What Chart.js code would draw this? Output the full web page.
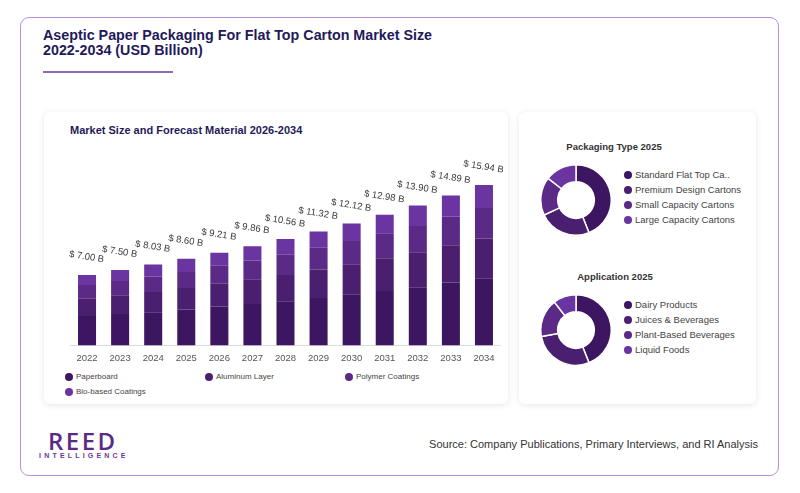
<!DOCTYPE html>
<html><head><meta charset="utf-8">
<script src="https://cdn.jsdelivr.net/npm/chart.js@4.4.0/dist/chart.umd.min.js"></script>
<style>
html,body{margin:0;padding:0;background:#fff;width:800px;height:493px;overflow:hidden;font-family:"Liberation Sans",Arial,sans-serif;}
.abs{position:absolute;}
#frame{left:20px;top:17px;width:759px;height:459px;border:1px solid #b690da;border-radius:9px;box-sizing:border-box;}
#title{left:43px;top:28px;font-size:14.3px;font-weight:bold;line-height:15px;color:#1f1a5a;white-space:nowrap;}
#uline{left:43px;top:71px;width:130px;height:2px;background:#8e6bb8;}
.panel{background:#fff;border-radius:6px;box-shadow:0 1px 6px rgba(0,0,0,0.10);}
#ptitle{left:70px;top:124px;font-size:11px;font-weight:bold;color:#1f1a5a;line-height:12px;white-space:nowrap;}
.lg{font-size:8px;color:#444;line-height:10px;white-space:nowrap;}
.dot{position:absolute;width:8px;height:8px;border-radius:50%;}
.dlg{font-size:9.5px;color:#444;line-height:11px;white-space:nowrap;}
.dtitle{font-size:9.5px;font-weight:bold;color:#333;line-height:11px;white-space:nowrap;transform:translateX(-50%);}
#reed{left:48px;top:428px;font-size:24px;font-weight:600;letter-spacing:2.5px;color:#5b2a86;line-height:26px;font-family:"Open Sans","Liberation Sans",sans-serif;}
#intel{left:39px;top:451px;font-size:7px;font-weight:bold;letter-spacing:3.2px;color:#6b35a0;line-height:9px;}
#source{right:42px;top:438px;font-size:11px;color:#333;line-height:12px;white-space:nowrap;}
</style></head>
<body>
<div id="frame" class="abs"></div>
<div id="title" class="abs">Aseptic Paper Packaging For Flat Top Carton Market Size<br>2022-2034 (USD Billion)</div>
<div id="uline" class="abs"></div>
<div class="abs panel" style="left:44px;top:112px;width:464px;height:292px;"></div>
<div class="abs panel" style="left:519px;top:112px;width:237px;height:292px;"></div>
<div id="ptitle" class="abs">Market Size and Forecast Material 2026-2034</div>
<div class="abs" style="left:44px;top:144px;width:464px;height:226px;"><canvas id="bar"></canvas></div>
<div id="barLegend"></div>
<div class="abs dtitle" style="left:614px;top:141px;">Packaging Type 2025</div>
<div class="abs dtitle" style="left:615px;top:271px;">Application 2025</div>
<div class="abs" style="left:539.5px;top:164px;width:72px;height:72px;"><canvas id="d1"></canvas></div>
<div class="abs" style="left:539.5px;top:294px;width:72px;height:72px;"><canvas id="d2"></canvas></div>
<div id="d1Legend"></div>
<div id="d2Legend"></div>
<div id="reed" class="abs">REED</div>
<div id="intel" class="abs">INTELLIGENCE</div>
<div id="source" class="abs">Source: Company Publications, Primary Interviews, and RI Analysis</div>
<script>
const years = ['2022','2023','2024','2025','2026','2027','2028','2029','2030','2031','2032','2033','2034'];
const paperboard = [2.94,3.13,3.31,3.57,3.87,4.11,4.40,4.71,5.08,5.41,5.77,6.26,6.68];
const aluminum   = [1.71,1.87,2.00,2.13,2.25,2.46,2.60,2.83,2.99,3.26,3.48,3.69,3.95];
const polymer    = [1.36,1.40,1.53,1.60,1.79,1.86,2.00,2.15,2.29,2.46,2.62,2.85,3.02];
const bio        = [0.99,1.10,1.19,1.30,1.30,1.43,1.56,1.63,1.76,1.85,2.03,2.09,2.29];
const totals     = [7.00,7.50,8.03,8.60,9.21,9.86,10.56,11.32,12.12,12.98,13.90,14.89,15.94];
const materialNames = ['Paperboard','Aluminum Layer','Polymer Coatings','Bio-based Coatings'];

const packLabels = ['Standard Flat Top Ca..','Premium Design Cartons','Small Capacity Cartons','Large Capacity Cartons'];
const packValues = [44,24,17.5,14.5];
const appLabels = ['Dairy Products','Juices & Beverages','Plant-Based Beverages','Liquid Foods'];
const appValues = [44,28,17.5,10.5];

const colors = ['#3c1660','#4b1f70','#5a2a86','#6a35a0'];
const FONT = '"Liberation Sans", Arial, sans-serif';

const totalLabels = {
  id:'totalLabels',
  afterDatasetsDraw(chart){
    const ctx = chart.ctx;
    const meta = chart.getDatasetMeta(chart.data.datasets.length-1);
    ctx.save();
    ctx.font = '9.5px ' + FONT;
    ctx.fillStyle = '#3a3a3a';
    ctx.textAlign = 'center';
    ctx.textBaseline = 'middle';
    meta.data.forEach((el,i)=>{
      ctx.save();
      ctx.translate(el.x - 0.5, el.y - 18);
      ctx.rotate(9*Math.PI/180);
      ctx.fillText('$ ' + totals[i].toFixed(2) + ' B', 0, 0);
      ctx.restore();
    });
    ctx.restore();
  }
};

const seriesData = [paperboard, aluminum, polymer, bio];
new Chart(document.getElementById('bar'), {
  type:'bar',
  data:{
    labels: years,
    datasets: seriesData.map((d,k)=>({label: materialNames[k], data: d, backgroundColor: colors[k], borderWidth:0}))
  },
  options:{
    responsive:true, maintainAspectRatio:false, animation:false,
    layout:{padding:{left:26.5,right:7.5,top:0,bottom:0}},
    plugins:{legend:{display:false},tooltip:{enabled:false}},
    datasets:{bar:{categoryPercentage:1,barPercentage:0.545}},
    scales:{
      x:{stacked:true,
        grid:{display:false,drawTicks:false},
        border:{display:true,color:'#dcdce4',width:1},
        ticks:{color:'#555',font:{size:9.5,family:FONT},padding:7,maxRotation:0},
        afterFit(s){ s.height = 24.5; }
      },
      y:{stacked:true,display:false,min:0,max:20}
    }
  },
  plugins:[totalLabels]
});

function donut(id, labels, values){
  new Chart(document.getElementById(id), {
    type:'doughnut',
    data:{labels:labels, datasets:[{data:values, backgroundColor:colors, borderColor:'#fff', borderWidth:1.5, hoverOffset:0}]},
    options:{responsive:true, maintainAspectRatio:false, animation:false, cutout:'52%',
      layout:{padding:0},
      plugins:{legend:{display:false},tooltip:{enabled:false}}}
  });
}
donut('d1', packLabels, packValues);
donut('d2', appLabels, appValues);

function htmlLegend(containerId, names, positions, cls, textOffset){
  const c = document.getElementById(containerId);
  names.forEach((n,i)=>{
    const p = positions[i];
    const dot = document.createElement('div');
    dot.className = 'dot';
    dot.style.left = (p[0]-4)+'px'; dot.style.top = (p[1]-4)+'px';
    dot.style.background = colors[i];
    c.appendChild(dot);
    const t = document.createElement('div');
    t.className = 'abs ' + cls;
    t.textContent = n;
    t.style.left = (p[0]+textOffset)+'px';
    const lh = cls==='lg'?10:11;
    t.style.top = (p[1]-lh/2)+'px';
    c.appendChild(t);
  });
}
htmlLegend('barLegend', materialNames, [[69,377],[209,377],[349,377],[69,392]], 'lg', 7);
htmlLegend('d1Legend', packLabels, [[627.5,174.5],[627.5,189.5],[627.5,204.5],[627.5,219.5]], 'dlg', 7.5);
htmlLegend('d2Legend', appLabels, [[627.5,304.5],[627.5,319.5],[627.5,334.5],[627.5,349.5]], 'dlg', 7.5);
</script>
</body></html>
